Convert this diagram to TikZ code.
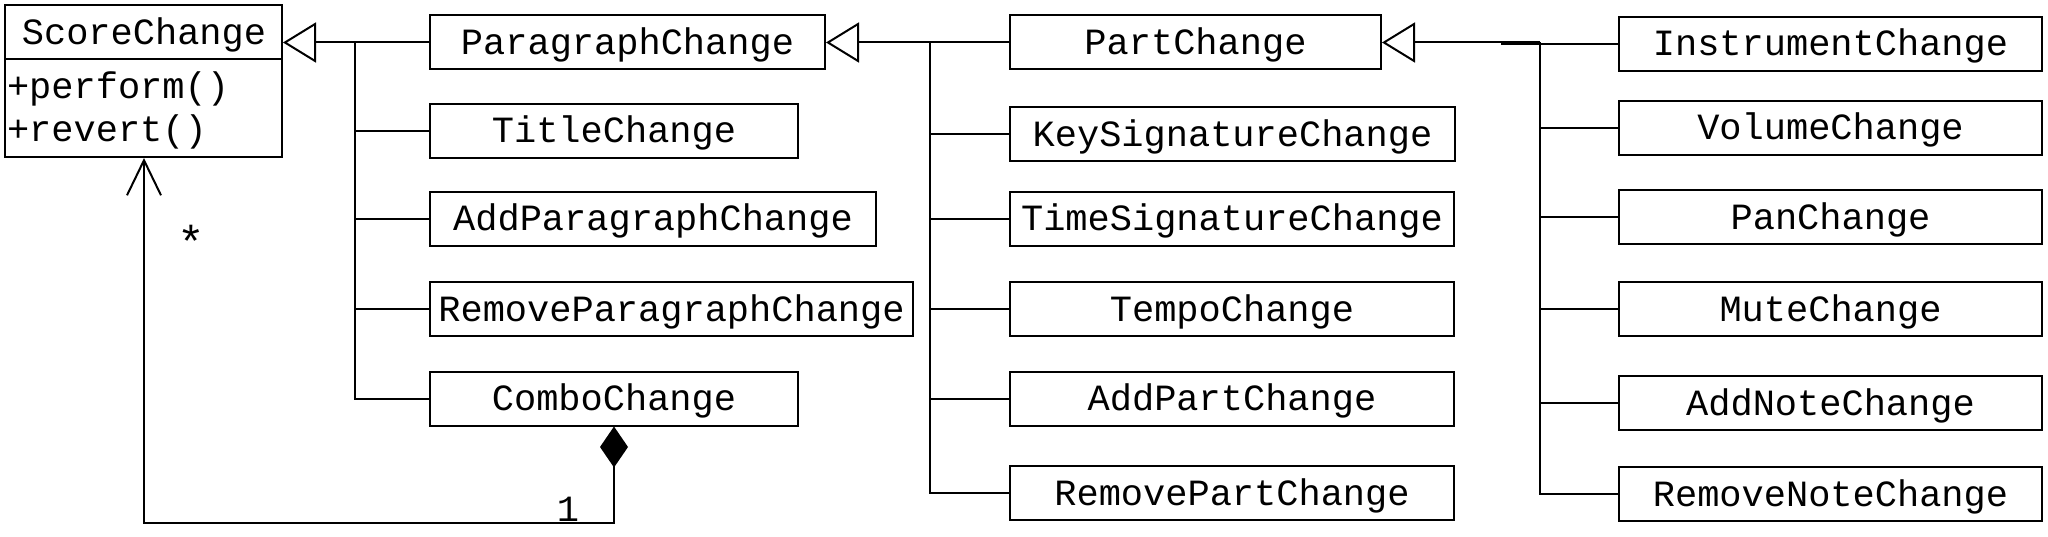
\documentclass[tikz,border=0pt]{standalone}
\usepackage{fontspec}
\setmainfont{Liberation Mono}
\usetikzlibrary{arrows.meta}
\begin{document}
\begin{tikzpicture}[x=1pt,y=-1pt, line width=2pt,
  every node/.style={font=\fontsize{37}{44}\selectfont},
  cls/.style={draw, line width=2pt, inner sep=0pt, minimum height=54pt, text height=24pt, text depth=0pt},
  lbl/.style={inner sep=0pt},
  gen/.style={-{Triangle[open,length=33pt,width=40pt]}},
  agg/.style={{Diamond[length=41pt,width=28pt]}-{Straight Barb[length=35pt,width=34pt]}}
]
\useasboundingbox (0,0) rectangle (2048,537);
% ScoreChange
\node[draw, line width=2pt, inner sep=0pt, minimum width=277pt, minimum height=152pt] (score) at (143.5,81) {};
\path (score.north west) ++(0,55) coordinate (dl);
\draw (dl) -- (dl -| score.east);
\node[lbl, text height=24pt, text depth=0pt] (sctitle) at (144,33) {ScoreChange};
\node[lbl, anchor=base west] (perf) at (6,99) {+perform()};
\node[lbl, anchor=base west] (rev) at (6,142) {+revert()};
% left column
\node[cls, minimum width=395pt] (para) at (627.5,42.5) {ParagraphChange};
\node[cls, minimum width=368pt] (title) at (614,131) {TitleChange};
\node[cls, minimum width=446pt] (addpara) at (653,219) {AddParagraphChange};
\node[cls, minimum width=483pt] (rempara) at (671.5,309) {RemoveParagraphChange};
\node[cls, minimum width=368pt] (combo) at (614,398.5) {ComboChange};
% middle column
\node[cls, minimum width=371pt] (part) at (1195.5,42.5) {PartChange};
\node[cls, minimum width=445pt] (keysig) at (1232.5,134.5) {KeySignatureChange};
\node[cls, minimum width=444pt] (timesig) at (1232,219) {TimeSignatureChange};
\node[cls, minimum width=444pt] (tempo) at (1232,309) {TempoChange};
\node[cls, minimum width=444pt] (addpart) at (1232,398.5) {AddPartChange};
\node[cls, minimum width=444pt] (rempart) at (1232,493) {RemovePartChange};
% right column
\node[cls, minimum width=423pt] (instr) at (1830.5,44) {InstrumentChange};
\node[cls, minimum width=423pt] (volume) at (1830.5,128) {VolumeChange};
\node[cls, minimum width=423pt] (pan) at (1830.5,217.5) {PanChange};
\node[cls, minimum width=423pt] (mute) at (1830.5,309) {MuteChange};
\node[cls, minimum width=423pt] (addnote) at (1830.5,403) {AddNoteChange};
\node[cls, minimum width=423pt] (remnote) at (1830.5,494) {RemoveNoteChange};
% generalizations: group 1
\coordinate (ja) at (355,42.5);
\draw[gen] (para.west) -- (para.west -| score.east);
\draw (ja) -- (ja |- combo.west) -- (combo.west);
\foreach \n in {title,addpara,rempara} \draw (ja |- \n.west) -- (\n.west);
% group 2
\coordinate (jb) at (930,42.5);
\draw[gen] (part.west) -- (part.west -| para.east);
\draw (jb) -- (jb |- rempart.west) -- (rempart.west);
\foreach \n in {keysig,timesig,tempo,addpart} \draw (jb |- \n.west) -- (\n.west);
% group 3
\coordinate (jc) at (1540,42.5);
\draw[gen] (jc) -- (jc -| part.east);
\draw (jc) -- (jc |- remnote.west) -- (remnote.west);
\coordinate (jd) at (1501,44);
\draw (jd) -- (instr.west);
\foreach \n in {volume,pan,mute,addnote} \draw (jc |- \n.west) -- (\n.west);
% aggregation
\coordinate (ag) at (144,523);
\draw[agg] (combo.south) |- (ag) -- (ag |- score.south);
\node[lbl, anchor=base] (one) at (568,521) {1};
\node[lbl, font=\fontsize{46}{52}\selectfont, text height=0pt, text depth=0pt] (star) at (191,259) {*};
\end{tikzpicture}
\end{document}
